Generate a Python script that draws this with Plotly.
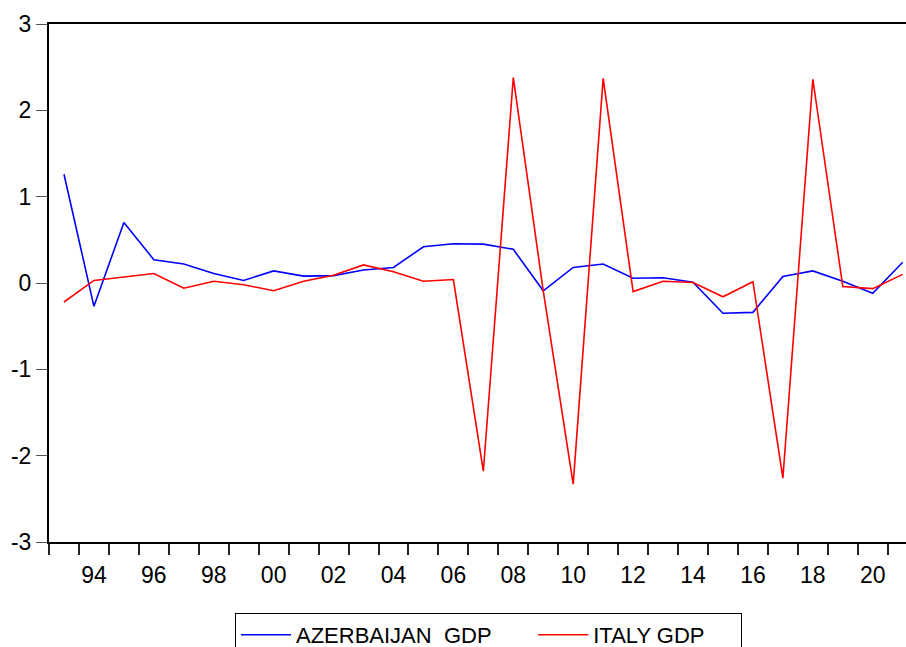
import plotly.graph_objects as go

years = list(range(1993, 2022))

azerbaijan_gdp = [1.26, -0.27, 0.70, 0.27, 0.22, 0.11, 0.03, 0.14, 0.08, 0.085,
                  0.15, 0.18, 0.42, 0.455, 0.45, 0.39, -0.09, 0.18, 0.22, 0.055,
                  0.06, 0.01, -0.35, -0.34, 0.075, 0.14, 0.02, -0.12, 0.24]

italy_gdp = [-0.22, 0.03, 0.07, 0.11, -0.06, 0.02, -0.02, -0.09, 0.02, 0.09,
             0.21, 0.13, 0.02, 0.04, -2.18, 2.38, -0.09, -2.33, 2.37, -0.10,
             0.02, 0.005, -0.16, 0.015, -2.26, 2.36, -0.04, -0.065, 0.10]

label_years = list(range(1994, 2021, 2))
label_text = [f"{y % 100:02d}" for y in label_years]
year_edges = [y - 0.5 for y in range(1993, 2023)]

y_ticks = [-3, -2, -1, 0, 1, 2, 3]
y_text = [str(v) for v in y_ticks]

FONT = "Liberation Sans, Arial, sans-serif"
FS = 23
NBSP = "\u00a0"

fig = go.Figure()
fig.add_trace(go.Scatter(x=years, y=azerbaijan_gdp, mode="lines",
                         name="AZERBAIJAN" + NBSP + " GDP" + NBSP * 6,
                         line=dict(color="#0000FF", width=1.6)))
fig.add_trace(go.Scatter(x=years, y=italy_gdp, mode="lines",
                         name="ITALY GDP" + NBSP * 5,
                         line=dict(color="#FF0000", width=1.6)))

fig.update_layout(
    width=906, height=647,
    margin=dict(l=49, r=0, t=24, b=105, autoexpand=False),
    paper_bgcolor="white", plot_bgcolor="white",
    font=dict(family=FONT, size=FS, color="black"),
    showlegend=True,
    legend=dict(orientation="h", x=0.217, xanchor="left", y=-0.137, yanchor="top",
                bordercolor="black", borderwidth=1, font=dict(size=22),
                itemwidth=50, tracegroupgap=0),
)

fig.update_xaxes(
    range=[1992.5, 2021.11],
    showgrid=False, zeroline=False,
    showline=True, linecolor="black", linewidth=2, mirror=True,
    tickmode="array", tickvals=label_years, ticktext=label_text,
    ticks="outside", ticklen=11, tickcolor="rgba(0,0,0,0)",
    minor=dict(tickmode="array", tickvals=year_edges, ticks="outside",
               ticklen=11, tickcolor="#222222", tickwidth=1.5, showgrid=False),
    tickfont=dict(family=FONT, size=FS),
)
fig.update_yaxes(
    range=[-3, 3], tickmode="array", tickvals=y_ticks, ticktext=y_text,
    showgrid=False, zeroline=False,
    showline=True, linecolor="black", linewidth=2,
    ticks="outside", ticklen=11, tickcolor="#555555", tickwidth=1.2,
    tickfont=dict(family=FONT, size=FS),
)

fig.write_html("out.html")
